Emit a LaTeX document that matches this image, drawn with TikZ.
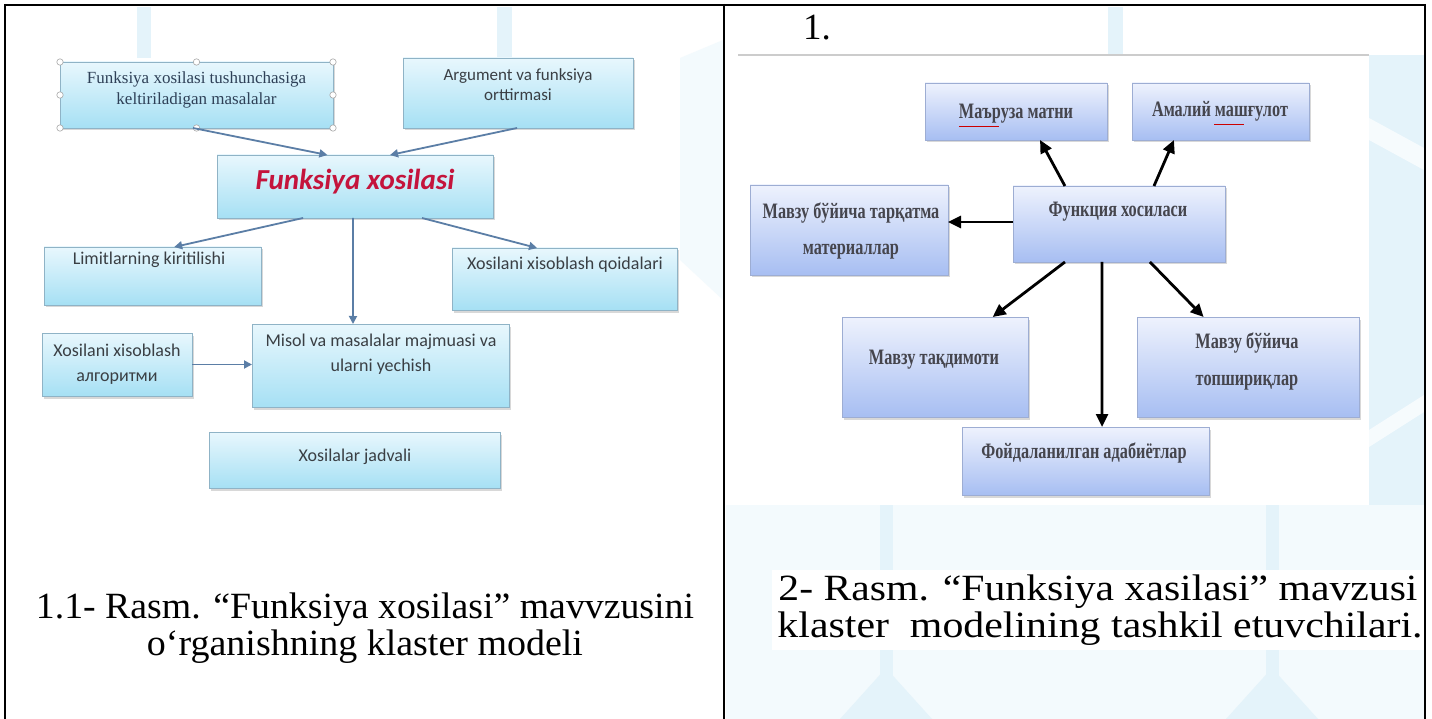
\documentclass[tikz,border=0pt]{standalone}
\usepackage{fontspec}
\usepackage{graphicx}
\setmainfont{Liberation Serif}
\newfontfamily\carl{Carlito}
\usetikzlibrary{arrows.meta,calc,shadows}
\definecolor{ltop}{HTML}{E8F7FD}
\definecolor{lbot}{HTML}{A6E0F4}
\definecolor{lbord}{HTML}{8FB3C6}
\definecolor{larr}{HTML}{5B7EA6}
\definecolor{crim}{HTML}{C4143C}
\definecolor{rtop}{HTML}{EEF2FD}
\definecolor{rbot}{HTML}{A7BEF2}
\definecolor{rbord}{HTML}{9DADD3}
\definecolor{wm}{HTML}{E4F3FA}
\definecolor{wml}{HTML}{F3FAFD}
\definecolor{ltxt}{HTML}{3A3F44}
\definecolor{atxt}{HTML}{2E4057}
\definecolor{rtxt}{HTML}{45454D}
\begin{document}
\begin{tikzpicture}[x=1pt,y=-1pt,
  box/.style={inner sep=0pt, outer sep=0pt, line width=0.8pt},
  lbox/.style={box, draw=lbord, top color=ltop, bottom color=lbot,
    drop shadow={shadow xshift=1.5pt, shadow yshift=-2.5pt, fill=black!50, opacity=0.3}},
  rbox/.style={box, draw=rbord, top color=rtop, bottom color=rbot,
    drop shadow={shadow xshift=1.5pt, shadow yshift=-2.5pt, fill=black!50, opacity=0.3}},
  ltext/.style={font=\carl\fontsize{18}{25}\selectfont, text=ltxt, align=center, inner sep=0pt},
  rtext/.style={font=\bfseries\fontsize{22}{36}\selectfont, text=rtxt, align=center, inner sep=0pt, xscale=0.74},
  larrow/.style={draw=larr, line width=1.8pt, -{Triangle[length=8pt,width=8pt]}},
  rarrow/.style={draw=black, line width=2.8pt, -{Triangle[length=13pt,width=12pt]}},
  captext/.style={font=\fontsize{37}{38}\selectfont, inner sep=0pt, text=black},
  handle/.style={draw=gray!70, fill=white, line width=0.6pt}
]
\useasboundingbox (0,0) rectangle (1432,719);
\fill[white] (0,0) rectangle (1432,719);

% faint background watermark
\fill[wm] (137,7) rectangle (151,58);
\fill[wm] (497,7) rectangle (512,58);
\fill[wm] (1108,7) rectangle (1123,55);
\fill[wml] (680,58) -- (723,40) -- (723,300) -- (680,260) -- cycle;
\fill[wm] (1369,55) rectangle (1424,505);
\fill[white,opacity=0.7] (1369,118) -- (1424,148) -- (1424,170) -- (1369,140) -- cycle;
\fill[white,opacity=0.7] (1369,430) -- (1424,395) -- (1424,412) -- (1369,447) -- cycle;
\fill[wml] (726,505) rectangle (1424,719);
\fill[wm] (880,505) rectangle (893,719);
\fill[wm] (1266,505) rectangle (1279,719);
\fill[wm] (840,719) -- (886,668) -- (932,719) -- cycle;
\fill[wm] (1226,719) -- (1272,668) -- (1318,719) -- cycle;
\fill[white] (772,570) rectangle (1424,650);

% image areas
\fill[white] (55,58) rectangle (680,500);
\fill[white] (738,55) rectangle (1369,505);
\draw[black!20, line width=2pt] (738,55) -- (1369,55);

% table lines
\draw[black, line width=2pt] (5,5) -- (1426,5);
\draw[black, line width=2pt] (5,4) -- (5,719);
\draw[black, line width=2pt] (724,4) -- (724,719);
\draw[black, line width=2pt] (1425,4) -- (1425,719);

% ---------- left diagram ----------
\node[lbox, minimum width=273pt, minimum height=66pt] (A) at (196.5,95) {};
\node[lbox, minimum width=230pt, minimum height=70pt] (B) at (518,93) {};
\node[lbox, minimum width=276pt, minimum height=63pt] (C) at (355,186.5) {};
\node[lbox, minimum width=217pt, minimum height=58pt] (D) at (152.5,276) {};
\node[lbox, minimum width=225pt, minimum height=62pt] (E) at (564.5,279) {};
\node[lbox, minimum width=257pt, minimum height=83pt] (F) at (380.5,365.5) {};
\node[lbox, minimum width=150pt, minimum height=63pt] (G) at (117,364.5) {};
\node[lbox, minimum width=291pt, minimum height=56pt] (H) at (354.5,460) {};

\foreach \a in {north west,north,north east,west,east,south west,south,south east}
  \draw[handle] (A.\a) circle[radius=3.2];

\node[font=\fontsize{17}{21}\selectfont, text=atxt, align=center, inner sep=0pt] (tA) at (196.5,90) {Funksiya xosilasi tushunchasiga\\keltiriladigan masalalar};
\node[ltext, font=\carl\fontsize{17}{20}\selectfont] (tB) at (518,85) {Argument va funksiya\\orttirmasi};
\node[font=\carl\bfseries\itshape\fontsize{29}{32}\selectfont, text=crim, inner sep=0pt] (tC) at (355,182) {Funksiya xosilasi};
\node[ltext] (tD) at (149,260) {Limitlarning kiritilishi};
\node[ltext] (tE) at (565,265) {Xosilani xisoblash qoidalari};
\node[ltext] (tF) at (381,354.5) {Misol va masalalar majmuasi va\\ularni yechish};
\node[ltext] (tG) at (117,364.5) {Xosilani xisoblash\\алгоритми};
\node[ltext] (tH) at (355,457) {Xosilalar jadvali};

\draw[larrow] ($(A.south west)!0.487!(A.south east)$) -- ($(C.north west)!0.40!(C.north east)$);
\draw[larrow] ($(B.south west)!0.496!(B.south east)$) -- ($(C.north west)!0.627!(C.north east)$);
\draw[larrow] ($(C.south west)!0.312!(C.south east)$) -- ($(D.north west)!0.60!(D.north east)$);
\draw[larrow] ($(C.south west)!0.743!(C.south east)$) -- ($(E.north west)!0.378!(E.north east)$);
\draw[larrow] ($(C.south west)!0.493!(C.south east)$) -- ($(F.north west)!0.393!(F.north east)$);
\draw[larrow] (G.east) -- (G.east -| F.west);

% ---------- right diagram ----------
\node[captext, anchor=west] (one) at (803,28) {1.};

\node[rbox, minimum width=182pt, minimum height=57pt] (M1) at (1016,111.5) {};
\node[rbox, minimum width=177pt, minimum height=57pt] (M2) at (1220.5,111.5) {};
\node[rbox, minimum width=212pt, minimum height=76pt] (R0) at (1119,224) {};
\node[rbox, minimum width=198pt, minimum height=90pt] (R1) at (849,230) {};
\node[rbox, minimum width=186pt, minimum height=100pt] (R2) at (935,367) {};
\node[rbox, minimum width=222pt, minimum height=100pt] (R3) at (1248,367) {};
\node[rbox, minimum width=247pt, minimum height=68pt] (R4) at (1085.5,461) {};

\node[rtext] (tM1) at (1016,114) {Маъруза матни};
\node[rtext] (tM2) at (1220,111) {Амалий машғулот};
\node[rtext] (tR0) at (1118,212) {Функция хосиласи};
\node[rtext] (tR1) at (851,230.5) {Мавзу бўйича тарқатма\\материаллар};
\node[rtext] (tR2) at (934,360) {Мавзу тақдимоти};
\node[rtext, font=\bfseries\fontsize{22}{37}\selectfont] (tR3) at (1247,361.5) {Мавзу бўйича\\топшириқлар};
\node[rtext] (tR4) at (1084,453) {Фойдаланилган адабиётлар};

\draw[red!80!black, line width=0.8pt] ($(tM1.south west)+(0,3)$) -- ++(40,0);
\draw[red!80!black, line width=0.8pt] ($(tM2.south)+(-6,3)$) -- ++(30,0);

\draw[rarrow] ($(R0.north west)!0.245!(R0.north east)$) -- ($(M1.south west)!0.632!(M1.south east)$);
\draw[rarrow] ($(R0.north west)!0.665!(R0.north east)$) -- ($(M2.south west)!0.237!(M2.south east)$);
\draw[rarrow] (R0.west |- 0,222) -- (R1.east |- 0,222);
\draw[rarrow] ($(R0.south west)!0.245!(R0.south east)$) -- ($(R2.north west)!0.81!(R2.north east)$);
\draw[rarrow] ($(R0.south west)!0.646!(R0.south east)$) -- ($(R3.north west)!0.30!(R3.north east)$);
\draw[rarrow] ($(R0.south west)!0.42!(R0.south east)$) -- ($(R4.north west)!0.567!(R4.north east)$);

% ---------- captions ----------
\node[captext] (cl1) at (365,610) {\resizebox{658pt}{\height}{1.1- Rasm. “Funksiya xosilasi” mavvzusini}};
\node[captext] (cl2) at (365,647) {\resizebox{436pt}{\height}{o‘rganishning klaster modeli}};
\node[captext] (cr1) at (1098,592) {\resizebox{639pt}{\height}{2- Rasm. “Funksiya xasilasi” mavzusi}};
\node[captext] (cr2) at (1100,629) {\resizebox{645pt}{\height}{klaster\ \ modelining tashkil etuvchilari.}};
\end{tikzpicture}
\end{document}
